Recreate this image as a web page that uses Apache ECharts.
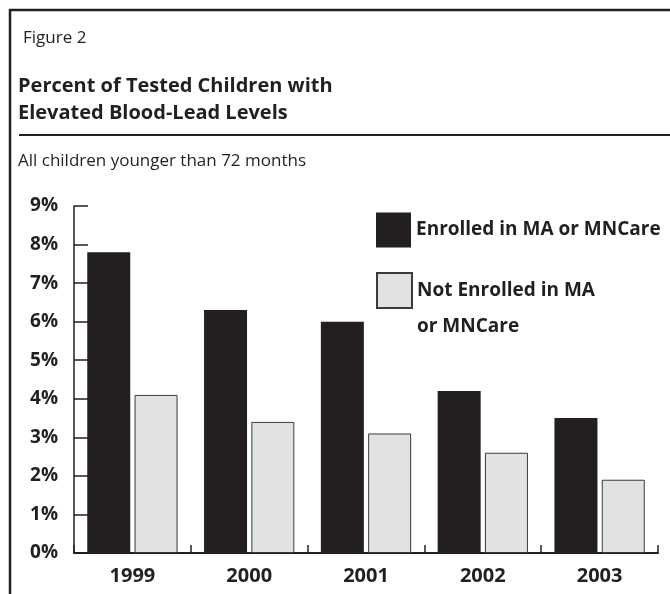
<!DOCTYPE html>
<html>
<head>
<meta charset="utf-8">
<script src="https://cdn.jsdelivr.net/npm/echarts@6/dist/echarts.min.js"></script>
<style>
  html, body { margin: 0; padding: 0; background: #fff; }
  #chart { width: 670px; height: 594px; }
</style>
</head>
<body>
<div id="chart"></div>
<script>
// data
const years = ['1999', '2000', '2001', '2002', '2003']
const enrolled = [7.8, 6.3, 6.0, 4.2, 3.5]
const notEnrolled = [4.1, 3.4, 3.1, 2.6, 1.9]
const yLabels = ['0%', '1%', '2%', '3%', '4%', '5%', '6%', '7%', '8%', '9%']
const seriesNames = ['Enrolled in MA or MNCare', 'Not Enrolled in MA or MNCare']

const ink = '#231f20'
const font = 'Open Sans'

const legendText = { fontFamily: font, fontSize: 19, fontWeight: 'bold', color: ink, lineHeight: 36 }

const chart = echarts.init(document.getElementById('chart'))
chart.setOption({
  backgroundColor: '#fff',
  textStyle: { fontFamily: font, color: ink },
  title: [
    { text: 'Figure 2', left: 18, top: 25,
      textStyle: { fontFamily: font, fontSize: 17, fontWeight: 'normal', color: ink } },
    { text: 'Percent of Tested Children with\nElevated Blood-Lead Levels', left: 13, top: 68,
      textStyle: { fontFamily: font, fontSize: 20, fontWeight: 'bold', lineHeight: 27, color: ink } },
    { text: 'All children younger than 72 months', left: 13, top: 148,
      textStyle: { fontFamily: font, fontSize: 17, fontWeight: 'normal', color: ink } }
  ],
  graphic: [
    // frame: top and left rules
    { type: 'line', shape: { x1: 9, y1: 10, x2: 670, y2: 10 }, style: { stroke: ink, lineWidth: 2.5 } },
    { type: 'line', shape: { x1: 10, y1: 9, x2: 10, y2: 594 }, style: { stroke: ink, lineWidth: 2.5 } },
    // rule under the title
    { type: 'line', shape: { x1: 19, y1: 135, x2: 670, y2: 135 }, style: { stroke: ink, lineWidth: 2 } }
  ],
  legend: [
    {
      left: 371, top: 207, padding: 5,
      icon: 'rect', itemWidth: 35, itemHeight: 35,
      selectedMode: false,
      textStyle: legendText,
      data: [seriesNames[0]]
    },
    {
      // leading blank line keeps the first text line level with the swatch
      left: 371, top: 231.5, padding: 5,
      icon: 'rect', itemWidth: 35, itemHeight: 35,
      selectedMode: false,
      textStyle: legendText,
      formatter: () => '\nNot Enrolled in MA\nor MNCare',
      data: [seriesNames[1]]
    }
  ],
  grid: { left: 74, right: 12, top: 206, bottom: 41, containLabel: false },
  xAxis: {
    type: 'category',
    data: years,
    axisLine: { lineStyle: { color: ink, width: 2 } },
    axisTick: { show: true, inside: true, length: 8, lineStyle: { color: ink, width: 1.5 } },
    axisLabel: { fontFamily: font, fontSize: 20, fontWeight: 'bold', color: ink, margin: 13 }
  },
  yAxis: {
    type: 'value',
    min: 0,
    max: 9,
    interval: 1,
    splitLine: { show: false },
    axisLine: { show: true, lineStyle: { color: ink, width: 1.5 } },
    axisTick: { show: true, inside: true, length: 14, lineStyle: { color: ink, width: 1.5 } },
    axisLabel: {
      fontFamily: font, fontSize: 19, fontWeight: 'bold', color: ink, margin: 16,
      formatter: v => yLabels[v]
    }
  },
  series: [
    {
      name: seriesNames[0],
      type: 'bar',
      data: enrolled,
      barWidth: 43,
      barGap: '10%',
      itemStyle: { color: ink }
    },
    {
      name: seriesNames[1],
      type: 'bar',
      data: notEnrolled,
      barWidth: 43,
      itemStyle: { color: '#e1e2e4', borderColor: '#3a3a3a', borderWidth: 1 }
    }
  ]
})
</script>
</body>
</html>
